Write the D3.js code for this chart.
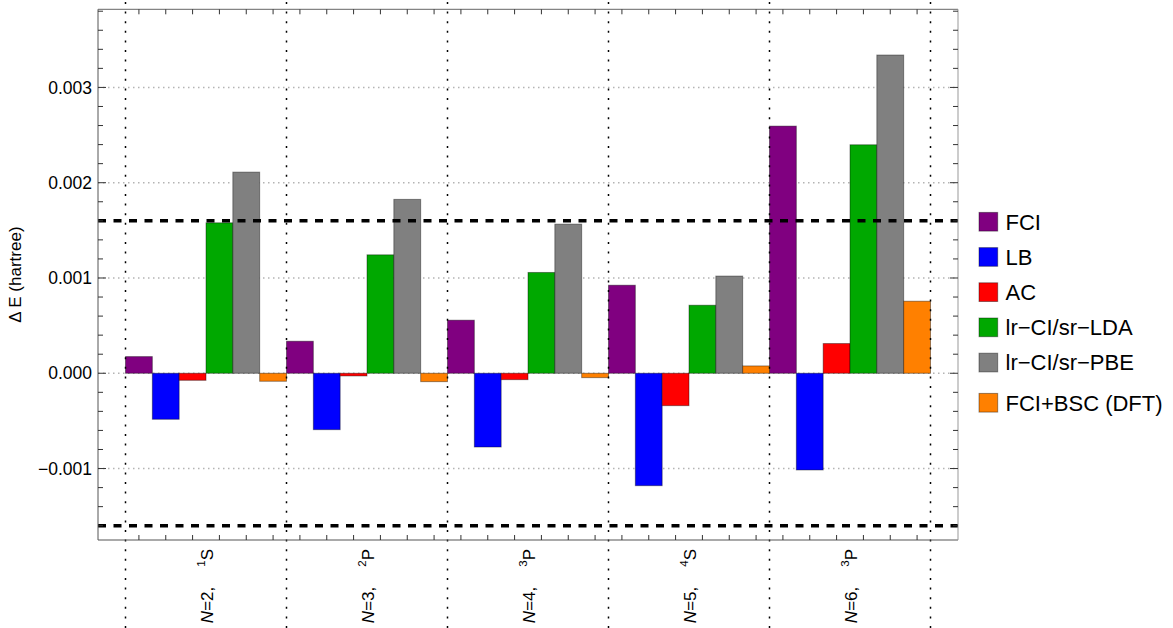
<!DOCTYPE html>
<html>
<head>
<meta charset="utf-8">
<script src="https://cdn.jsdelivr.net/npm/d3@7/dist/d3.min.js"></script>
<style>
  body { margin: 0; background: #fff; }
  text { font-family: "Liberation Sans", Arial, sans-serif; fill: #000; }
</style>
</head>
<body>
<div id="chart"></div>
<script>
// 分组（电子数 N 和谱项）
var groupN = ['2', '3', '4', '5', '6'];
var termSup = ['1', '2', '3', '4', '3'];
var termSym = ['S', 'P', 'P', 'S', 'P'];

// 系列名称和颜色
var seriesNames = ['FCI', 'LB', 'AC', 'lr\u2212CI/sr\u2212LDA', 'lr\u2212CI/sr\u2212PBE', 'FCI+BSC (DFT)'];
var seriesColors = ['#800080', '#0000ff', '#ff0000', '#00a800', '#808080', '#ff8000'];

// 每个系列的 ΔE 值 (hartree)
var fci = [0.000175, 0.000336, 0.000557, 0.000924, 0.002594];
var lb  = [-0.000483, -0.000592, -0.000774, -0.00118, -0.001015];
var ac  = [-0.000074, -0.000028, -0.000067, -0.00034, 0.000312];
var lda = [0.001579, 0.001243, 0.001058, 0.000714, 0.002398];
var pbe = [0.002111, 0.001825, 0.001565, 0.00102, 0.00334];
var bsc = [-0.000084, -0.000088, -0.000046, 0.000077, 0.000756];

// 化学精度参考线 ±1.6 mHartree
var chemAcc = [0.0016, -0.0016];

// y 轴刻度
var yMajor = [-0.001, 0, 0.001, 0.002, 0.003];

var seriesValues = [fci, lb, ac, lda, pbe, bsc];

var width = 1173,
    height = 628;

// 外框位置
var frame = { left: 98, right: 958, top: 9.3, bottom: 540 };
var pad = 27.5;

var svg = d3.select('#chart')
    .append('svg')
    .attr('width', width)
    .attr('height', height);

// 比例尺
var x0 = d3.scaleBand()
    .domain(d3.range(groupN.length))
    .range([frame.left + pad, frame.right - pad])
    .padding(0);

var x1 = d3.scaleBand()
    .domain(d3.range(seriesNames.length))
    .range([0, x0.bandwidth()])
    .padding(0);

var y = d3.scaleLinear()
    .domain([-0.00175, 0.00382])
    .range([frame.bottom, frame.top]);

var fmt = d3.format('.3f');

// 水平网格线（灰色点线）
svg.append('g').selectAll('line')
    .data(yMajor)
    .enter().append('line')
    .attr('x1', frame.left).attr('x2', frame.right)
    .attr('y1', function (d) { return y(d); })
    .attr('y2', function (d) { return y(d); })
    .attr('stroke', '#b4b4b4')
    .attr('stroke-width', 1.4)
    .attr('stroke-dasharray', '1.5 3.5');

// 柱子
var bars = [];
seriesValues.forEach(function (vals, s) {
    vals.forEach(function (v, g) {
        bars.push({ s: s, g: g, v: v });
    });
});

svg.append('g').selectAll('rect')
    .data(bars)
    .enter().append('rect')
    .attr('x', function (d) { return x0(d.g) + x1(d.s); })
    .attr('width', x1.bandwidth())
    .attr('y', function (d) { return y(Math.max(0, d.v)); })
    .attr('height', function (d) { return Math.abs(y(d.v) - y(0)); })
    .attr('fill', function (d) { return seriesColors[d.s]; })
    .attr('stroke', '#000')
    .attr('stroke-opacity', 0.4)
    .attr('stroke-width', 1);

// 组之间的竖直点线（贯穿整个画面）
var dividers = d3.range(groupN.length + 1).map(function (i) {
    return i < groupN.length ? x0(i) : x0(i - 1) + x0.bandwidth();
});
svg.append('g').selectAll('line')
    .data(dividers)
    .enter().append('line')
    .attr('x1', function (d) { return d; })
    .attr('x2', function (d) { return d; })
    .attr('y1', 2).attr('y2', height)
    .attr('stroke', '#000')
    .attr('stroke-width', 1.5)
    .attr('stroke-dasharray', '2 7.6');

// 化学精度虚线
svg.append('g').selectAll('line')
    .data(chemAcc)
    .enter().append('line')
    .attr('x1', frame.left).attr('x2', frame.right)
    .attr('y1', function (d) { return y(d); })
    .attr('y2', function (d) { return y(d); })
    .attr('stroke', '#000')
    .attr('stroke-width', 3.6)
    .attr('stroke-dasharray', '8 7.5');

// 外框
var axes = svg.append('g');
axes.append('line').attr('x1', frame.left).attr('x2', frame.left)
    .attr('y1', frame.top).attr('y2', frame.bottom).attr('stroke', '#555');
axes.append('line').attr('x1', frame.left).attr('x2', frame.right)
    .attr('y1', frame.bottom).attr('y2', frame.bottom).attr('stroke', '#555');
axes.append('line').attr('x1', frame.left).attr('x2', frame.right)
    .attr('y1', frame.top).attr('y2', frame.top).attr('stroke', '#666');
axes.append('line').attr('x1', frame.right).attr('x2', frame.right)
    .attr('y1', frame.top).attr('y2', frame.bottom).attr('stroke', '#999');

// y 轴刻度：次刻度每 0.0002
var minor = d3.range(-16, 39, 2).map(function (k) { return k / 10000; });
minor.forEach(function (t) {
    var isMajor = yMajor.some(function (m) { return Math.abs(m - t) < 1e-9; });
    var len = isMajor ? 8 : 5;
    axes.append('line')
        .attr('x1', frame.left).attr('x2', frame.left + len)
        .attr('y1', y(t)).attr('y2', y(t))
        .attr('stroke', '#333');
    axes.append('line')
        .attr('x1', frame.right).attr('x2', frame.right - len)
        .attr('y1', y(t)).attr('y2', y(t))
        .attr('stroke', '#333');
});

// y 轴刻度标签
svg.append('g').selectAll('text')
    .data(yMajor)
    .enter().append('text')
    .attr('x', frame.left - 6)
    .attr('y', function (d) { return y(d); })
    .attr('dy', '0.35em')
    .attr('text-anchor', 'end')
    .style('font-size', '17.5px')
    .text(function (d) { return fmt(d); });

// x 方向刻度：每根柱子的中心（上下）
bars.forEach(function (d) {
    var cx = x0(d.g) + x1(d.s) + x1.bandwidth() / 2;
    axes.append('line').attr('x1', cx).attr('x2', cx)
        .attr('y1', frame.bottom).attr('y2', frame.bottom - 5).attr('stroke', '#333');
    axes.append('line').attr('x1', cx).attr('x2', cx)
        .attr('y1', frame.top).attr('y2', frame.top + 5).attr('stroke', '#333');
});

// x 轴分组标签（旋转 90°）
groupN.forEach(function (n, i) {
    var cx = x0(i) + x0.bandwidth() / 2 + 7;
    var t = svg.append('text')
        .attr('transform', 'translate(' + cx + ',549) rotate(-90)')
        .attr('text-anchor', 'end')
        .style('font-size', '17px');
    t.append('tspan').style('font-style', 'italic').text('N');
    t.append('tspan').text('=' + n + ',');
    t.append('tspan').attr('dx', 20).attr('dy', -8).style('font-size', '11.5px').text(termSup[i]);
    t.append('tspan').attr('dy', 8).text(termSym[i]);
});

// y 轴标题
svg.append('text')
    .attr('transform', 'translate(20.5,' + ((frame.top + frame.bottom) / 2) + ') rotate(-90)')
    .attr('text-anchor', 'middle')
    .style('font-size', '17px')
    .text('\u0394 E (hartree)');

// 图例
var legend = svg.append('g');
seriesNames.forEach(function (name, i) {
    var cy = 221.7 + i * 35.2 + (i === 5 ? 5 : 0);
    legend.append('rect')
        .attr('x', 979).attr('y', cy - 9.3)
        .attr('width', 18.7).attr('height', 18.7)
        .attr('fill', seriesColors[i])
        .attr('stroke', '#000').attr('stroke-opacity', 0.4);
    legend.append('text')
        .attr('x', 1005.5).attr('y', cy)
        .attr('dy', '0.36em')
        .style('font-size', '22px')
        .text(name);
});
</script>
</body>
</html>
